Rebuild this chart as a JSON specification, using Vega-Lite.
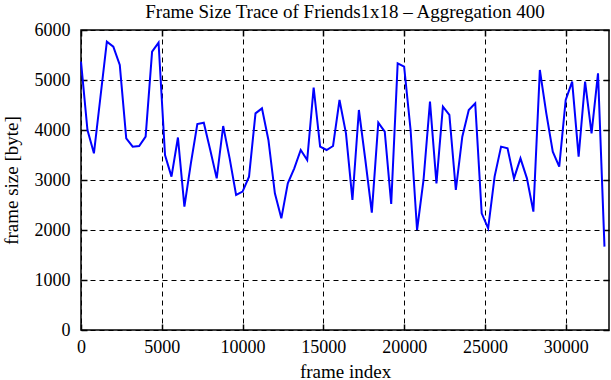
{
  "$schema": "https://vega.github.io/schema/vega-lite/v6.json",
  "width": 528,
  "height": 300,
  "autosize": "none",
  "padding": {"left": 81, "top": 30, "right": 2, "bottom": 50},
  "background": "white",
  "title": {
    "text": "Frame Size Trace of Friends1x18 – Aggregation 400",
    "font": "Liberation Serif",
    "fontSize": 19,
    "fontWeight": "normal",
    "color": "black",
    "anchor": "middle",
    "frame": "group",
    "offset": -1
  },
  "config": {
    "view": {"stroke": "black", "strokeWidth": 1.5},
    "axis": {
      "labelFont": "Liberation Serif",
      "titleFont": "Liberation Serif",
      "labelFontSize": 18,
      "titleFontSize": 19,
      "titleFontWeight": "normal",
      "labelColor": "black",
      "titleColor": "black",
      "tickColor": "black",
      "tickWidth": 1.5,
      "domain": false,
      "gridColor": "black",
      "gridOpacity": 1,
      "gridWidth": 1,
      "gridDash": [5, 4],
      "format": "d"
    }
  },
  "data": {
    "values": [
      {"frame": 0, "size": 5367}, {"frame": 400, "size": 4000}, {"frame": 800, "size": 3533},
      {"frame": 1200, "size": 4650}, {"frame": 1600, "size": 5767}, {"frame": 2000, "size": 5667},
      {"frame": 2400, "size": 5300}, {"frame": 2800, "size": 3833}, {"frame": 3200, "size": 3667},
      {"frame": 3600, "size": 3680}, {"frame": 4000, "size": 3867}, {"frame": 4400, "size": 5567},
      {"frame": 4800, "size": 5747}, {"frame": 5200, "size": 3500}, {"frame": 5600, "size": 3067},
      {"frame": 6000, "size": 3850}, {"frame": 6400, "size": 2467}, {"frame": 6800, "size": 3333},
      {"frame": 7200, "size": 4120}, {"frame": 7600, "size": 4147}, {"frame": 8000, "size": 3600},
      {"frame": 8400, "size": 3033}, {"frame": 8800, "size": 4080}, {"frame": 9200, "size": 3433},
      {"frame": 9600, "size": 2700}, {"frame": 10000, "size": 2767}, {"frame": 10400, "size": 3067},
      {"frame": 10800, "size": 4333}, {"frame": 11200, "size": 4433}, {"frame": 11600, "size": 3800},
      {"frame": 12000, "size": 2733}, {"frame": 12400, "size": 2233}, {"frame": 12800, "size": 2933},
      {"frame": 13200, "size": 3233}, {"frame": 13600, "size": 3600}, {"frame": 14000, "size": 3400},
      {"frame": 14400, "size": 4850}, {"frame": 14800, "size": 3667}, {"frame": 15200, "size": 3600},
      {"frame": 15600, "size": 3680}, {"frame": 16000, "size": 4600}, {"frame": 16400, "size": 3933},
      {"frame": 16800, "size": 2600}, {"frame": 17200, "size": 4400}, {"frame": 17600, "size": 3400},
      {"frame": 18000, "size": 2347}, {"frame": 18400, "size": 4147}, {"frame": 18800, "size": 3967},
      {"frame": 19200, "size": 2520}, {"frame": 19600, "size": 5333}, {"frame": 20000, "size": 5267},
      {"frame": 20400, "size": 4000}, {"frame": 20800, "size": 2000}, {"frame": 21200, "size": 3000},
      {"frame": 21600, "size": 4567}, {"frame": 22000, "size": 2933}, {"frame": 22400, "size": 4467},
      {"frame": 22800, "size": 4300}, {"frame": 23200, "size": 2800}, {"frame": 23600, "size": 3867},
      {"frame": 24000, "size": 4400}, {"frame": 24400, "size": 4533}, {"frame": 24800, "size": 2333},
      {"frame": 25200, "size": 2033}, {"frame": 25600, "size": 3067}, {"frame": 26000, "size": 3667},
      {"frame": 26400, "size": 3633}, {"frame": 26800, "size": 3033}, {"frame": 27200, "size": 3433},
      {"frame": 27600, "size": 3033}, {"frame": 28000, "size": 2367}, {"frame": 28400, "size": 5200},
      {"frame": 28800, "size": 4333}, {"frame": 29200, "size": 3567}, {"frame": 29600, "size": 3267},
      {"frame": 30000, "size": 4600}, {"frame": 30400, "size": 4967}, {"frame": 30800, "size": 3467},
      {"frame": 31200, "size": 4967}, {"frame": 31600, "size": 3933}, {"frame": 32000, "size": 5133},
      {"frame": 32400, "size": 1667}
    ]
  },
  "layer": [
    {
      "mark": {"type": "line", "color": "#0000ff", "strokeWidth": 2},
      "encoding": {
        "x": {
          "field": "frame", "type": "quantitative",
          "scale": {"domain": [0, 32680], "nice": false, "zero": false},
          "axis": {
            "orient": "bottom", "title": "frame index",
            "values": [0, 5000, 10000, 15000, 20000, 25000, 30000],
            "grid": true, "tickSize": -6, "labelPadding": 14, "titlePadding": 6,
            "labelFlush": false
          }
        },
        "y": {
          "field": "size", "type": "quantitative",
          "scale": {"domain": [0, 6000], "nice": false},
          "axis": {
            "orient": "left", "title": "frame size [byte]",
            "values": [0, 1000, 2000, 3000, 4000, 5000, 6000],
            "grid": true, "tickSize": -6, "labelPadding": 17, "titlePadding": 13,
            "labelFlush": false
          }
        }
      }
    },
    {
      "mark": {"type": "line", "opacity": 0},
      "encoding": {
        "x": {
          "field": "frame", "type": "quantitative",
          "axis": {
            "orient": "top", "title": null, "labels": false, "grid": false,
            "values": [0, 5000, 10000, 15000, 20000, 25000, 30000],
            "tickSize": -6
          }
        },
        "y": {
          "field": "size", "type": "quantitative",
          "axis": {
            "orient": "right", "title": null, "labels": false, "grid": false,
            "values": [0, 1000, 2000, 3000, 4000, 5000, 6000],
            "tickSize": -6
          }
        }
      }
    }
  ],
  "resolve": {"axis": {"x": "independent", "y": "independent"}}
}
